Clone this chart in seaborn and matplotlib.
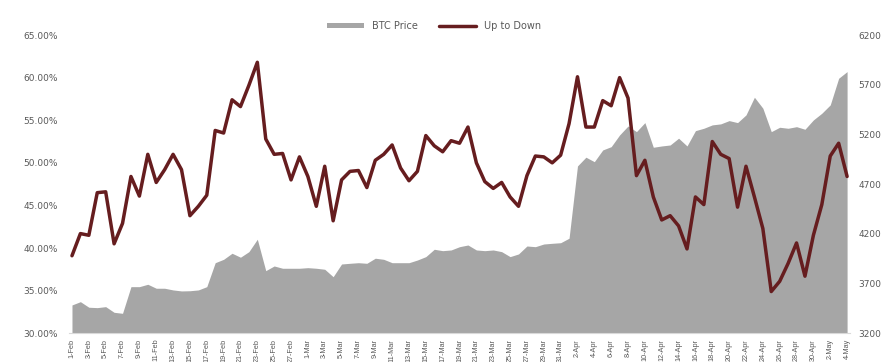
import seaborn as sns
import matplotlib.pyplot as plt
import pandas as pd
from matplotlib.patches import Patch
from matplotlib.lines import Line2D

# daily dates, 1-Feb to 4-May
dates = pd.date_range('2018-02-01', '2018-05-04', freq='D')
date_labels = [f'{d.day}-{d.strftime("%b")}' for d in dates]

# Up to Down ratio (%)
up_to_down = [
    39.1, 41.7, 41.5, 46.5, 46.6, 40.5, 42.9, 48.4, 46.1, 51.0,
    47.7, 49.2, 51.0, 49.2, 43.8, 44.9, 46.2, 53.8, 53.5, 57.4,
    56.6, 59.1, 61.8, 52.8, 51.0, 51.1, 48.0, 50.7, 48.4, 44.9,
    49.6, 43.2, 48.0, 49.0, 49.1, 47.1, 50.3, 51.0, 52.1, 49.4,
    47.9, 49.0, 53.2, 52.0, 51.3, 52.6, 52.3, 54.2, 50.0, 47.8,
    47.0, 47.7, 46.0, 44.9, 48.5, 50.8, 50.7, 50.0, 50.9, 54.6,
    60.1, 54.2, 54.2, 57.3, 56.7, 60.0, 57.6, 48.5, 50.3, 46.0,
    43.3, 43.8, 42.6, 39.9, 46.0, 45.1, 52.5, 51.0, 50.5, 44.8,
    49.6, 46.0, 42.3, 34.9, 36.1, 38.2, 40.6, 36.7, 41.5, 45.1,
    50.8, 52.3, 48.4,
]

# BTC price (right axis)
btc_price = [
    3485, 3518, 3462, 3458, 3468, 3411, 3401, 3669, 3669, 3693,
    3653, 3653, 3636, 3626, 3628, 3636, 3669, 3910, 3944, 4005,
    3965, 4021, 4146, 3830, 3877, 3854, 3854, 3854, 3860, 3854,
    3844, 3769, 3897, 3904, 3910, 3904, 3955, 3944, 3910, 3910,
    3910, 3937, 3971, 4045, 4031, 4038, 4071, 4088, 4038, 4031,
    4038, 4021, 3971, 3998, 4078, 4071, 4098, 4105, 4111, 4156,
    4883, 4971, 4926, 5044, 5077, 5195, 5285, 5228, 5319, 5071,
    5084, 5094, 5162, 5084, 5238, 5262, 5296, 5306, 5339, 5319,
    5396, 5574, 5464, 5228, 5272, 5262, 5278, 5252, 5346, 5413,
    5497, 5765, 5832,
]

df = pd.DataFrame({'idx': range(len(dates)), 'date': date_labels,
                   'ratio': [v / 100 for v in up_to_down], 'price': btc_price})

sns.set_style('white')
plt.rcParams['font.family'] = ['DejaVu Sans']

area_color = '#A6A6A6'
line_color = '#661D1F'
text_color = '#595959'

fig = plt.figure(figsize=(8.91, 3.62), dpi=100)
ax = fig.add_axes([0.077, 0.0793, 0.8775, 0.824])
ax2 = ax.twinx()

# price area on the secondary axis, drawn behind the line
ax2.fill_between(df['idx'], 3200, df['price'], color=area_color, linewidth=0)
ax2.set_ylim(3200, 6200)
ax2.set_yticks(range(3200, 6201, 500))

sns.lineplot(data=df, x='idx', y='ratio', ax=ax, color=line_color, linewidth=2.5)
ax.set_ylim(0.30, 0.65)
ax.set_yticks([0.30, 0.35, 0.40, 0.45, 0.50, 0.55, 0.60, 0.65])
ax.set_yticklabels([f'{v * 100:.2f}%' for v in ax.get_yticks()])
ax.set_xlim(-0.4, len(df) - 0.6)
ax.set_xticks(df['idx'][::2])
ax.set_xticklabels(df['date'][::2], rotation=90, fontsize=5.2,
                   family=['Liberation Sans'], color=text_color)
ax.set_xlabel('')
ax.set_ylabel('')

ax.set_zorder(ax2.get_zorder() + 1)
ax.patch.set_visible(False)

for a in (ax, ax2):
    for s in a.spines.values():
        s.set_visible(False)
ax.spines['bottom'].set_visible(True)
ax.spines['bottom'].set_color('#D9D9D9')
ax.spines['bottom'].set_linewidth(0.8)

ax.tick_params(axis='y', labelsize=6.5, labelcolor=text_color, length=0, pad=8)
ax.tick_params(axis='x', length=2, color='#D9D9D9', pad=2)
ax2.tick_params(axis='y', labelsize=6.5, labelcolor=text_color, length=0, pad=5.5)

handles = [Patch(facecolor=area_color, edgecolor='none', label='BTC Price'),
           Line2D([0], [0], color=line_color, linewidth=2.5, label='Up to Down')]
fig.legend(handles=handles, loc='center', bbox_to_anchor=(0.487, 0.928), ncol=2,
           frameon=False, fontsize=7, handlelength=3.8, handleheight=0.5,
           columnspacing=2.2, labelcolor=text_color)

fig.savefig('out.png', dpi=100)
